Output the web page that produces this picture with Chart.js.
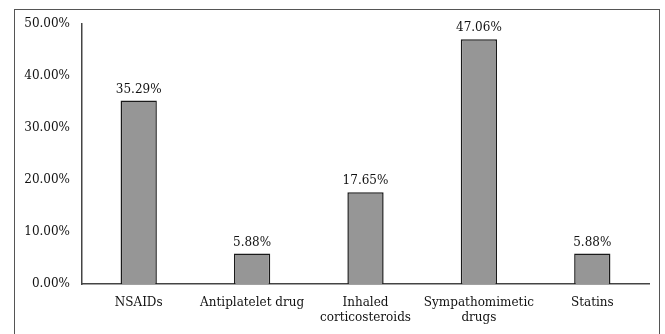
<!DOCTYPE html>
<html>
<head>
<meta charset="utf-8">
<script src="https://cdn.jsdelivr.net/npm/chart.js@4/dist/chart.umd.min.js"></script>
<style>
  html, body { margin: 0; padding: 0; background: #fff; }
  #wrap { position: relative; width: 665px; height: 334px; }
  #frame {
    position: absolute; left: 14px; top: 9px; width: 646px; height: 340px;
    border: 1.5px solid #555; box-sizing: border-box;
  }
  canvas { position: absolute; left: 0; top: 0; }
</style>
</head>
<body>
<div id="wrap">
  <div id="frame"></div>
  <canvas id="chart" width="665" height="334"></canvas>
</div>
<script>
// Drug classes and share of cases
const categories = ['NSAIDs', 'Antiplatelet drug', ['Inhaled', 'corticosteroids'], ['Sympathomimetic', 'drugs'], 'Statins'];
const shares = [35.29, 5.88, 17.65, 47.06, 5.88];
const yTicks = [0, 10, 20, 30, 40, 50];

const textFont = '"DejaVu Serif", serif';

// Draw the percentage above every bar
const valueLabels = {
    id: 'valueLabels',
    afterDatasetsDraw(chart) {
        const ctx = chart.ctx;
        const meta = chart.getDatasetMeta(0);
        ctx.save();
        ctx.font = '12px ' + textFont;
        ctx.fillStyle = '#111';
        ctx.textAlign = 'center';
        ctx.textBaseline = 'bottom';
        meta.data.forEach(function(bar, i) {
            ctx.fillText(shares[i].toFixed(2) + '%', bar.x, bar.y - 5);
        });
        ctx.restore();
    }
};

document.addEventListener('DOMContentLoaded', function() {
    const ctx = document.getElementById('chart').getContext('2d');
    new Chart(ctx, {
        type: 'bar',
        data: {
            labels: categories,
            datasets: [{
                data: shares,
                backgroundColor: '#969696',
                borderColor: '#1a1a1a',
                borderWidth: 1.5,
                barPercentage: 0.32,
                categoryPercentage: 1
            }]
        },
        options: {
            responsive: false,
            animation: false,
            layout: { padding: { top: 24, right: 16, left: 0, bottom: 0 } },
            plugins: {
                legend: { display: false },
                tooltip: { enabled: false }
            },
            scales: {
                x: {
                    grid: { display: false, drawTicks: false },
                    border: { color: '#444', width: 1.5 },
                    ticks: {
                        color: '#111',
                        padding: 12,
                        maxRotation: 0,
                        autoSkip: false,
                        font: { family: textFont, size: 12 }
                    },
                    afterFit(scale) { scale.height = 50; }
                },
                y: {
                    min: 0,
                    max: 50,
                    afterBuildTicks(scale) {
                        scale.ticks = yTicks.map(v => ({ value: v }));
                    },
                    grid: { display: false, drawTicks: false },
                    border: { color: '#444', width: 1.5 },
                    ticks: {
                        color: '#111',
                        padding: 12,
                        font: { family: textFont, size: 12 },
                        callback: v => v.toFixed(2) + '%'
                    },
                    afterFit(scale) { scale.width = 82; }
                }
            }
        },
        plugins: [valueLabels]
    });
});
</script>
</body>
</html>
